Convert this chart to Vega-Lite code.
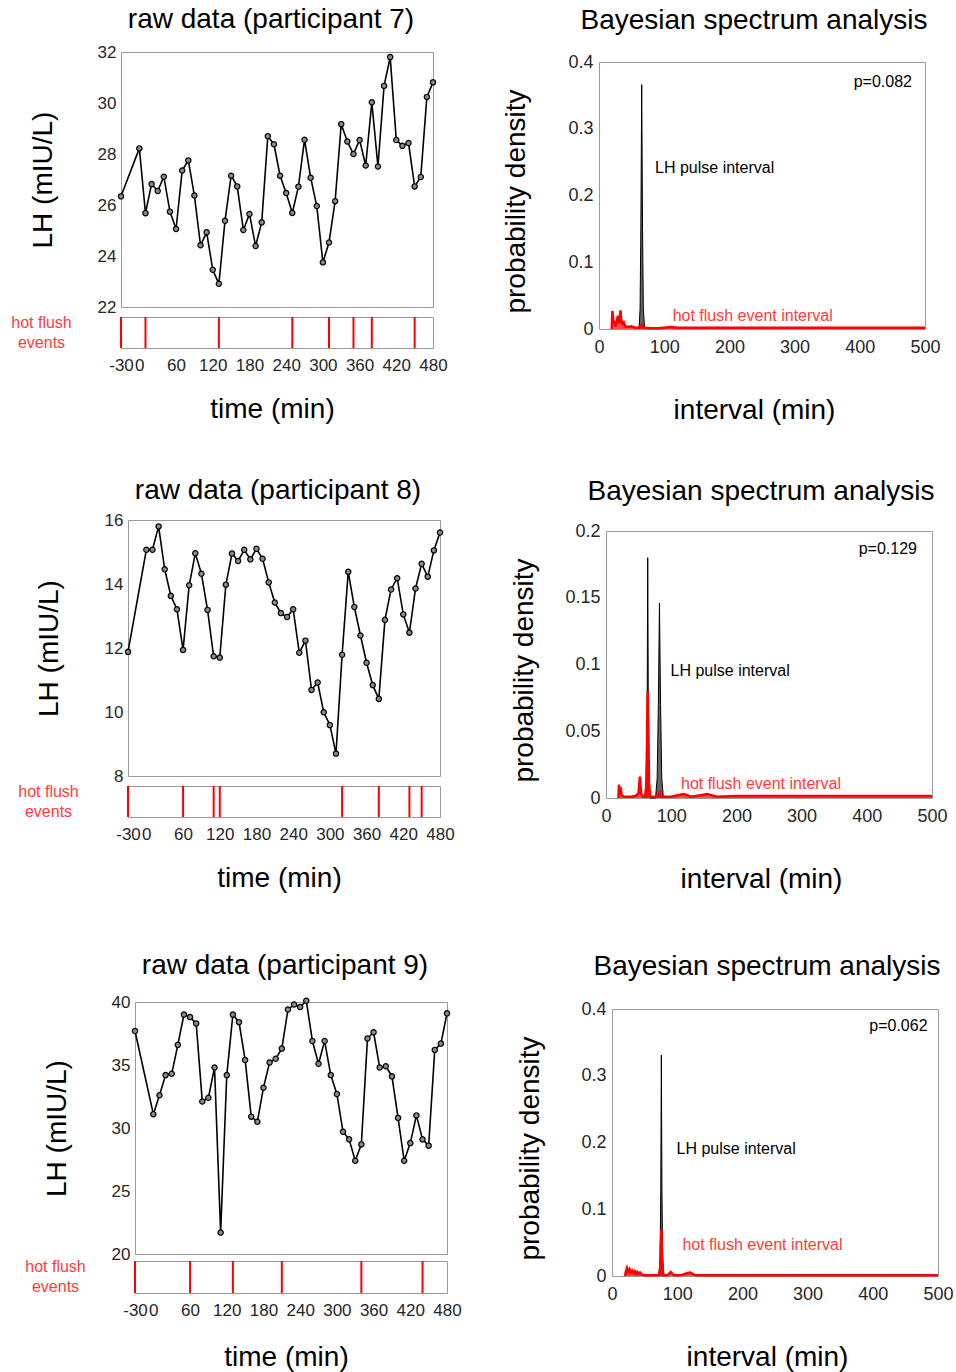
{
"$schema": "https://vega.github.io/schema/vega-lite/v6.json",
"padding": {"left": 8, "top": 5, "right": 0, "bottom": 0},
"config": {
  "font": "Liberation Sans",
  "view": {"stroke": "#9a9a9a", "strokeWidth": 1},
  "axis": {"labelFont": "Liberation Sans", "labelFontSize": 17, "labelColor": "#262626", "titleFont": "Liberation Sans", "titleFontWeight": "normal", "titleColor": "#000", "titleFontSize": 28, "grid": false, "ticks": false, "domain": false, "labelOverlap": false, "labelBound": false, "labelFlush": false},
  "title": {"font": "Liberation Sans", "fontSize": 28, "fontWeight": "normal", "color": "#000", "anchor": "middle"}
},
"datasets": {
  "p7": [{"t":-30,"lh":26.34},{"t":0,"lh":28.22},{"t":10,"lh":25.68},{"t":20,"lh":26.82},{"t":30,"lh":26.55},{"t":40,"lh":27.11},{"t":50,"lh":25.74},{"t":60,"lh":25.06},{"t":70,"lh":27.35},{"t":80,"lh":27.75},{"t":90,"lh":26.37},{"t":100,"lh":24.42},{"t":110,"lh":24.93},{"t":120,"lh":23.46},{"t":130,"lh":22.91},{"t":140,"lh":25.38},{"t":150,"lh":27.15},{"t":160,"lh":26.73},{"t":170,"lh":25.02},{"t":180,"lh":25.65},{"t":190,"lh":24.39},{"t":200,"lh":25.32},{"t":210,"lh":28.70},{"t":220,"lh":28.38},{"t":230,"lh":27.15},{"t":240,"lh":26.47},{"t":250,"lh":25.69},{"t":260,"lh":26.72},{"t":270,"lh":28.56},{"t":280,"lh":27.07},{"t":290,"lh":25.96},{"t":300,"lh":23.75},{"t":310,"lh":24.53},{"t":320,"lh":26.15},{"t":330,"lh":29.17},{"t":340,"lh":28.49},{"t":350,"lh":28.0},{"t":360,"lh":28.55},{"t":370,"lh":27.55},{"t":380,"lh":30.03},{"t":390,"lh":27.51},{"t":400,"lh":30.67},{"t":410,"lh":31.80},{"t":420,"lh":28.55},{"t":430,"lh":28.32},{"t":440,"lh":28.43},{"t":450,"lh":26.73},{"t":460,"lh":27.10},{"t":470,"lh":30.24},{"t":480,"lh":30.81}],
  "p8": [{"t":-30,"lh":11.88},{"t":0,"lh":15.07},{"t":10,"lh":15.07},{"t":20,"lh":15.80},{"t":30,"lh":14.46},{"t":40,"lh":13.63},{"t":50,"lh":13.21},{"t":60,"lh":11.94},{"t":70,"lh":13.96},{"t":80,"lh":14.96},{"t":90,"lh":14.32},{"t":100,"lh":13.19},{"t":110,"lh":11.74},{"t":120,"lh":11.70},{"t":130,"lh":13.98},{"t":140,"lh":14.95},{"t":150,"lh":14.72},{"t":160,"lh":15.07},{"t":170,"lh":14.77},{"t":180,"lh":15.10},{"t":190,"lh":14.79},{"t":200,"lh":14.05},{"t":210,"lh":13.42},{"t":220,"lh":13.09},{"t":230,"lh":12.97},{"t":240,"lh":13.21},{"t":250,"lh":11.85},{"t":260,"lh":12.23},{"t":270,"lh":10.69},{"t":280,"lh":10.92},{"t":290,"lh":9.99},{"t":300,"lh":9.59},{"t":310,"lh":8.70},{"t":320,"lh":11.79},{"t":330,"lh":14.38},{"t":340,"lh":13.28},{"t":350,"lh":12.39},{"t":360,"lh":11.54},{"t":370,"lh":10.84},{"t":380,"lh":10.41},{"t":390,"lh":12.88},{"t":400,"lh":13.83},{"t":410,"lh":14.18},{"t":420,"lh":13.05},{"t":430,"lh":12.48},{"t":440,"lh":13.86},{"t":450,"lh":14.63},{"t":460,"lh":14.23},{"t":470,"lh":15.05},{"t":480,"lh":15.61}],
  "p9": [{"t":-30,"lh":37.7},{"t":0,"lh":31.1},{"t":10,"lh":32.6},{"t":20,"lh":34.2},{"t":30,"lh":34.3},{"t":40,"lh":36.6},{"t":50,"lh":39.0},{"t":60,"lh":38.8},{"t":70,"lh":38.3},{"t":80,"lh":32.1},{"t":90,"lh":32.4},{"t":100,"lh":34.8},{"t":110,"lh":21.7},{"t":120,"lh":34.2},{"t":130,"lh":39.0},{"t":140,"lh":38.4},{"t":150,"lh":35.4},{"t":160,"lh":30.9},{"t":170,"lh":30.5},{"t":180,"lh":33.2},{"t":190,"lh":35.2},{"t":200,"lh":35.5},{"t":210,"lh":36.3},{"t":220,"lh":39.4},{"t":230,"lh":39.8},{"t":240,"lh":39.6},{"t":250,"lh":40.1},{"t":260,"lh":36.9},{"t":270,"lh":35.1},{"t":280,"lh":36.9},{"t":290,"lh":34.2},{"t":300,"lh":32.7},{"t":310,"lh":29.7},{"t":320,"lh":29.1},{"t":330,"lh":27.4},{"t":340,"lh":28.7},{"t":350,"lh":37.1},{"t":360,"lh":37.6},{"t":370,"lh":34.8},{"t":380,"lh":34.9},{"t":390,"lh":34.1},{"t":400,"lh":30.8},{"t":410,"lh":27.4},{"t":420,"lh":28.8},{"t":430,"lh":31.0},{"t":440,"lh":29.1},{"t":450,"lh":28.6},{"t":460,"lh":36.2},{"t":470,"lh":36.7},{"t":480,"lh":39.1}],
  "e7": [{"t":-30},{"t":10},{"t":130},{"t":250},{"t":310},{"t":350},{"t":380},{"t":450}],
  "e8": [{"t":-30},{"t":60},{"t":110},{"t":120},{"t":320},{"t":380},{"t":430},{"t":450}],
  "e9": [{"t":-30},{"t":60},{"t":130},{"t":210},{"t":340},{"t":440}],
  "s7": [
    {"s":"LH","x":61.5,"p":0},{"s":"LH","x":63,"p":0.03},{"s":"LH","x":64.2,"p":0.15},{"s":"LH","x":65.5,"p":0.366},{"s":"LH","x":66.8,"p":0.15},{"s":"LH","x":68,"p":0.03},{"s":"LH","x":70,"p":0},
    {"s":"HF","x":19.5,"p":0},{"s":"HF","x":20.5,"p":0.027},{"s":"HF","x":22,"p":0.012},{"s":"HF","x":24,"p":0.01},{"s":"HF","x":25,"p":0.004},{"s":"HF","x":27,"p":0.01},{"s":"HF","x":29,"p":0.02},{"s":"HF","x":31,"p":0.008},{"s":"HF","x":33,"p":0.028},{"s":"HF","x":34,"p":0.015},{"s":"HF","x":36,"p":0.008},{"s":"HF","x":38,"p":0.01},{"s":"HF","x":40,"p":0.004},{"s":"HF","x":45,"p":0.003},{"s":"HF","x":50,"p":0.004},{"s":"HF","x":55,"p":0.002},{"s":"HF","x":60,"p":0.002},{"s":"HF","x":63,"p":0.004},{"s":"HF","x":66,"p":0.006},{"s":"HF","x":69,"p":0.002},{"s":"HF","x":75,"p":0.001},{"s":"HF","x":90,"p":0.001},{"s":"HF","x":100,"p":0.002},{"s":"HF","x":110,"p":0.003},{"s":"HF","x":120,"p":0.002},{"s":"HF","x":150,"p":0.002},{"s":"HF","x":200,"p":0.002},{"s":"HF","x":300,"p":0.002},{"s":"HF","x":400,"p":0.002},{"s":"HF","x":500,"p":0.002}
  ],
  "s8": [
    {"s":"LH","x":60.7,"p":0},{"s":"LH","x":62.3,"p":0.03},{"s":"LH","x":63.2,"p":0.08},{"s":"LH","x":64,"p":0.18},{"s":"LH","x":64.8,"p":0.08},{"s":"LH","x":65.7,"p":0.03},{"s":"LH","x":67.3,"p":0},{"s":"LH","x":76,"p":0},{"s":"LH","x":78.5,"p":0.015},{"s":"LH","x":80.3,"p":0.07},{"s":"LH","x":82,"p":0.146},{"s":"LH","x":83.7,"p":0.07},{"s":"LH","x":85.5,"p":0.015},{"s":"LH","x":88,"p":0},
    {"s":"HF","x":19,"p":0},{"s":"HF","x":20,"p":0.01},{"s":"HF","x":21,"p":0.004},{"s":"HF","x":23,"p":0.006},{"s":"HF","x":24,"p":0.002},{"s":"HF","x":27,"p":0.001},{"s":"HF","x":40,"p":0.001},{"s":"HF","x":47,"p":0.002},{"s":"HF","x":50,"p":0.004},{"s":"HF","x":52,"p":0.016},{"s":"HF","x":54,"p":0.003},{"s":"HF","x":57,"p":0.001},{"s":"HF","x":60,"p":0.001},{"s":"HF","x":62,"p":0.01},{"s":"HF","x":64,"p":0.08},{"s":"HF","x":66,"p":0.01},{"s":"HF","x":68,"p":0.001},{"s":"HF","x":75,"p":0.001},{"s":"HF","x":80,"p":0.002},{"s":"HF","x":82,"p":0.004},{"s":"HF","x":84,"p":0.001},{"s":"HF","x":100,"p":0.001},{"s":"HF","x":110,"p":0.002},{"s":"HF","x":120,"p":0.003},{"s":"HF","x":130,"p":0.001},{"s":"HF","x":145,"p":0.002},{"s":"HF","x":155,"p":0.003},{"s":"HF","x":170,"p":0.001},{"s":"HF","x":200,"p":0.0015},{"s":"HF","x":300,"p":0.0015},{"s":"HF","x":500,"p":0.0015}
  ],
  "s9": [
    {"s":"LH","x":72,"p":0},{"s":"LH","x":73.8,"p":0.03},{"s":"LH","x":74.8,"p":0.13},{"s":"LH","x":75.7,"p":0.331},{"s":"LH","x":76.6,"p":0.13},{"s":"LH","x":77.6,"p":0.03},{"s":"LH","x":79.4,"p":0},
    {"s":"HF","x":20,"p":0},{"s":"HF","x":21,"p":0.006},{"s":"HF","x":23,"p":0.012},{"s":"HF","x":25,"p":0.006},{"s":"HF","x":27,"p":0.01},{"s":"HF","x":29,"p":0.005},{"s":"HF","x":31,"p":0.008},{"s":"HF","x":33,"p":0.004},{"s":"HF","x":35,"p":0.007},{"s":"HF","x":37,"p":0.003},{"s":"HF","x":39,"p":0.006},{"s":"HF","x":41,"p":0.003},{"s":"HF","x":43,"p":0.005},{"s":"HF","x":46,"p":0.002},{"s":"HF","x":50,"p":0.001},{"s":"HF","x":72,"p":0.001},{"s":"HF","x":74,"p":0.012},{"s":"HF","x":75.7,"p":0.07},{"s":"HF","x":77.4,"p":0.012},{"s":"HF","x":79,"p":0.001},{"s":"HF","x":85,"p":0.001},{"s":"HF","x":90,"p":0.006},{"s":"HF","x":95,"p":0.001},{"s":"HF","x":105,"p":0.001},{"s":"HF","x":115,"p":0.004},{"s":"HF","x":120,"p":0.005},{"s":"HF","x":128,"p":0.001},{"s":"HF","x":150,"p":0.001},{"s":"HF","x":200,"p":0.001},{"s":"HF","x":500,"p":0.001}
  ]
},
"spacing": 51,
"vconcat": [
 {"hconcat": [
  {"width": 1, "height": 1, "data": {"values": [{"a": 1}]}, "view": {"stroke": null}, "mark": {"type": "rule", "opacity": 0}, "encoding": {}},
  {"hconcat": [
   {"vconcat": [
    {"width": 312, "height": 255, "data": {"name": "p7"},
     "title": {"text": "raw data (participant 7)", "offset": 9, "dx": -6},
     "encoding": {
       "x": {"field": "t", "type": "quantitative", "scale": {"domain": [-30, 480], "nice": false, "zero": false}, "axis": null},
       "y": {"field": "lh", "type": "quantitative", "scale": {"domain": [22, 32], "nice": false, "zero": false}, "axis": {"values": [22,24,26,28,30,32], "title": "LH (mIU/L)", "titlePadding": 40, "labelPadding": 5}}
     },
     "layer": [
       {"mark": {"type": "line", "color": "#000", "strokeWidth": 1.6}},
       {"mark": {"type": "point", "shape": "circle", "filled": true, "fill": "#8a8a8a", "stroke": "#000", "strokeWidth": 1.2, "size": 28, "opacity": 1}}
     ]},
    {"width": 312, "height": 31, "data": {"name": "e7"},
     "mark": {"type": "rule", "color": "#ff0000", "strokeWidth": 2},
     "encoding": {
       "x": {"field": "t", "type": "quantitative", "scale": {"domain": [-30, 480], "nice": false, "zero": false}, "axis": {"values": [-30,0,60,120,180,240,300,360,420,480], "labelExpr": "datum.value + ''", "labelPadding": 9, "title": "time (min)", "titlePadding": 22, "titleX": 151}},
       "y": {"datum": 0, "type": "quantitative", "scale": {"domain": [0, 1]}, "axis": {"labels": false, "title": ["hot flush", "events"], "titleAngle": 0, "titleAlign": "center", "titleBaseline": "middle", "titleX": -80, "titleY": 5, "titleColor": "#ff3b3b", "titleFontSize": 16, "titleLineHeight": 20}},
       "y2": {"datum": 1}
     }}
   ], "spacing": 10, "bounds": "flush"},
   {"vconcat": [
    {"width": 326, "height": 1, "data": {"values": [{"a": 1}]}, "view": {"stroke": null},
     "title": {"text": "Bayesian spectrum analysis", "offset": 17, "dx": -8},
     "mark": {"type": "rule", "opacity": 0}, "encoding": {}},
    {"width": 326, "height": 267, "data": {"name": "s7"},
     "encoding": {
       "x": {"field": "x", "type": "quantitative", "scale": {"domain": [0, 500], "nice": false}, "axis": {"values": [0,100,200,300,400,500], "labelFontSize": 18, "labelPadding": 9, "title": "interval (min)", "titlePadding": 40, "titleX": 155}},
       "y": {"field": "p", "type": "quantitative", "scale": {"domain": [0, 0.4], "nice": false}, "axis": {"values": [0,0.1,0.2,0.3,0.4], "format": "~g", "labelFontSize": 18, "labelPadding": 6, "title": "probability density", "titlePadding": 37, "titleY": 139}}
     },
     "layer": [
       {"transform": [{"filter": "datum.s == 'LH'"}], "mark": {"type": "area", "color": "#222", "line": {"color": "#000", "strokeWidth": 1}}},
       {"transform": [{"filter": "datum.s == 'HF'"}], "mark": {"type": "area", "color": "#ff0000", "line": {"color": "#ff0000", "strokeWidth": 2.5}}},
       {"transform": [{"filter": "datum.s == 'HF' && datum.x == 500"}], "mark": {"type": "text", "align": "left", "baseline": "middle", "fontSize": 16, "color": "#000"}, "encoding": {"x": {"datum": 86}, "y": {"datum": 0.241}, "text": {"value": "LH pulse interval"}}},
       {"transform": [{"filter": "datum.s == 'HF' && datum.x == 500"}], "mark": {"type": "text", "align": "left", "baseline": "middle", "fontSize": 16, "color": "#ff3b3b"}, "encoding": {"x": {"datum": 113}, "y": {"datum": 0.019}, "text": {"value": "hot flush event interval"}}},
       {"transform": [{"filter": "datum.s == 'HF' && datum.x == 500"}], "mark": {"type": "text", "align": "right", "baseline": "middle", "fontSize": 16, "color": "#000"}, "encoding": {"x": {"datum": 480}, "y": {"datum": 0.37}, "text": {"value": "p=0.082"}}}
     ]}
   ], "spacing": 9, "bounds": "flush"}
  ], "spacing": 54}
 ], "spacing": 0},
 {"vconcat": [
 {"hconcat": [
  {"width": 8, "height": 1, "data": {"values": [{"a": 1}]}, "view": {"stroke": null}, "mark": {"type": "rule", "opacity": 0}, "encoding": {}},
  {"hconcat": [
   {"vconcat": [
    {"width": 312, "height": 256, "data": {"name": "p8"},
     "title": {"text": "raw data (participant 8)", "offset": 6, "dx": -6},
     "encoding": {
       "x": {"field": "t", "type": "quantitative", "scale": {"domain": [-30, 480], "nice": false, "zero": false}, "axis": null},
       "y": {"field": "lh", "type": "quantitative", "scale": {"domain": [8, 16], "nice": false, "zero": false}, "axis": {"values": [8,10,12,14,16], "title": "LH (mIU/L)", "titlePadding": 41, "labelPadding": 5}}
     },
     "layer": [
       {"mark": {"type": "line", "color": "#000", "strokeWidth": 1.6}},
       {"mark": {"type": "point", "shape": "circle", "filled": true, "fill": "#8a8a8a", "stroke": "#000", "strokeWidth": 1.2, "size": 28, "opacity": 1}}
     ]},
    {"width": 312, "height": 31, "data": {"name": "e8"},
     "mark": {"type": "rule", "color": "#ff0000", "strokeWidth": 2},
     "encoding": {
       "x": {"field": "t", "type": "quantitative", "scale": {"domain": [-30, 480], "nice": false, "zero": false}, "axis": {"values": [-30,0,60,120,180,240,300,360,420,480], "labelExpr": "datum.value + ''", "labelPadding": 9, "title": "time (min)", "titlePadding": 22, "titleX": 151}},
       "y": {"datum": 0, "type": "quantitative", "scale": {"domain": [0, 1]}, "axis": {"labels": false, "title": ["hot flush", "events"], "titleAngle": 0, "titleAlign": "center", "titleBaseline": "middle", "titleX": -80, "titleY": 5, "titleColor": "#ff3b3b", "titleFontSize": 16, "titleLineHeight": 20}},
       "y2": {"datum": 1}
     }}
   ], "spacing": 10, "bounds": "flush"},
   {"vconcat": [
    {"width": 326, "height": 1, "data": {"values": [{"a": 1}]}, "view": {"stroke": null},
     "title": {"text": "Bayesian spectrum analysis", "offset": 14, "dx": -8},
     "mark": {"type": "rule", "opacity": 0}, "encoding": {}},
    {"width": 326, "height": 267, "data": {"name": "s8"},
     "encoding": {
       "x": {"field": "x", "type": "quantitative", "scale": {"domain": [0, 500], "nice": false}, "axis": {"values": [0,100,200,300,400,500], "labelFontSize": 18, "labelPadding": 9, "title": "interval (min)", "titlePadding": 40, "titleX": 155}},
       "y": {"field": "p", "type": "quantitative", "scale": {"domain": [0, 0.2], "nice": false}, "axis": {"values": [0,0.05,0.1,0.15,0.2], "format": "~g", "labelFontSize": 18, "labelPadding": 6, "title": "probability density", "titlePadding": 26, "titleY": 139}}
     },
     "layer": [
       {"transform": [{"filter": "datum.s == 'LH'"}], "mark": {"type": "area", "color": "#222", "line": {"color": "#000", "strokeWidth": 1}}},
       {"transform": [{"filter": "datum.s == 'HF'"}], "mark": {"type": "area", "color": "#ff0000", "line": {"color": "#ff0000", "strokeWidth": 2.5}}},
       {"transform": [{"filter": "datum.s == 'HF' && datum.x == 500"}], "mark": {"type": "text", "align": "left", "baseline": "middle", "fontSize": 16, "color": "#000"}, "encoding": {"x": {"datum": 99}, "y": {"datum": 0.095}, "text": {"value": "LH pulse interval"}}},
       {"transform": [{"filter": "datum.s == 'HF' && datum.x == 500"}], "mark": {"type": "text", "align": "left", "baseline": "middle", "fontSize": 16, "color": "#ff3b3b"}, "encoding": {"x": {"datum": 115}, "y": {"datum": 0.0105}, "text": {"value": "hot flush event interval"}}},
       {"transform": [{"filter": "datum.s == 'HF' && datum.x == 500"}], "mark": {"type": "text", "align": "right", "baseline": "middle", "fontSize": 16, "color": "#000"}, "encoding": {"x": {"datum": 477}, "y": {"datum": 0.1865}, "text": {"value": "p=0.129"}}}
     ]}
   ], "spacing": 10, "bounds": "flush"}
  ], "spacing": 55}
 ], "spacing": 0},
 {"hconcat": [
  {"width": 15, "height": 1, "data": {"values": [{"a": 1}]}, "view": {"stroke": null}, "mark": {"type": "rule", "opacity": 0}, "encoding": {}},
  {"hconcat": [
   {"vconcat": [
    {"width": 312, "height": 252, "data": {"name": "p9"},
     "title": {"text": "raw data (participant 9)", "offset": 13, "dx": -6},
     "encoding": {
       "x": {"field": "t", "type": "quantitative", "scale": {"domain": [-30, 480], "nice": false, "zero": false}, "axis": null},
       "y": {"field": "lh", "type": "quantitative", "scale": {"domain": [20, 40], "nice": false, "zero": false}, "axis": {"values": [20,25,30,35,40], "title": "LH (mIU/L)", "titlePadding": 40, "labelPadding": 5}}
     },
     "layer": [
       {"mark": {"type": "line", "color": "#000", "strokeWidth": 1.6}},
       {"mark": {"type": "point", "shape": "circle", "filled": true, "fill": "#8a8a8a", "stroke": "#000", "strokeWidth": 1.2, "size": 28, "opacity": 1}}
     ]},
    {"width": 312, "height": 32, "data": {"name": "e9"},
     "mark": {"type": "rule", "color": "#ff0000", "strokeWidth": 2},
     "encoding": {
       "x": {"field": "t", "type": "quantitative", "scale": {"domain": [-30, 480], "nice": false, "zero": false}, "axis": {"values": [-30,0,60,120,180,240,300,360,420,480], "labelExpr": "datum.value + ''", "labelPadding": 9, "title": "time (min)", "titlePadding": 25, "titleX": 151}},
       "y": {"datum": 0, "type": "quantitative", "scale": {"domain": [0, 1]}, "axis": {"labels": false, "title": ["hot flush", "events"], "titleAngle": 0, "titleAlign": "center", "titleBaseline": "middle", "titleX": -80, "titleY": 5, "titleColor": "#ff3b3b", "titleFontSize": 16, "titleLineHeight": 20}},
       "y2": {"datum": 1}
     }}
   ], "spacing": 7, "bounds": "flush"},
   {"vconcat": [
    {"width": 326, "height": 1, "data": {"values": [{"a": 1}]}, "view": {"stroke": null},
     "title": {"text": "Bayesian spectrum analysis", "offset": 21, "dx": -8},
     "mark": {"type": "rule", "opacity": 0}, "encoding": {}},
    {"width": 326, "height": 267, "data": {"name": "s9"},
     "encoding": {
       "x": {"field": "x", "type": "quantitative", "scale": {"domain": [0, 500], "nice": false}, "axis": {"values": [0,100,200,300,400,500], "labelFontSize": 18, "labelPadding": 9, "title": "interval (min)", "titlePadding": 40, "titleX": 155}},
       "y": {"field": "p", "type": "quantitative", "scale": {"domain": [0, 0.4], "nice": false}, "axis": {"values": [0,0.1,0.2,0.3,0.4], "format": "~g", "labelFontSize": 18, "labelPadding": 6, "title": "probability density", "titlePadding": 36, "titleY": 139}}
     },
     "layer": [
       {"transform": [{"filter": "datum.s == 'LH'"}], "mark": {"type": "area", "color": "#222", "line": {"color": "#000", "strokeWidth": 1}}},
       {"transform": [{"filter": "datum.s == 'HF'"}], "mark": {"type": "area", "color": "#ff0000", "line": {"color": "#ff0000", "strokeWidth": 2.5}}},
       {"transform": [{"filter": "datum.s == 'HF' && datum.x == 500"}], "mark": {"type": "text", "align": "left", "baseline": "middle", "fontSize": 16, "color": "#000"}, "encoding": {"x": {"datum": 99}, "y": {"datum": 0.19}, "text": {"value": "LH pulse interval"}}},
       {"transform": [{"filter": "datum.s == 'HF' && datum.x == 500"}], "mark": {"type": "text", "align": "left", "baseline": "middle", "fontSize": 16, "color": "#ff3b3b"}, "encoding": {"x": {"datum": 108}, "y": {"datum": 0.046}, "text": {"value": "hot flush event interval"}}},
       {"transform": [{"filter": "datum.s == 'HF' && datum.x == 500"}], "mark": {"type": "text", "align": "right", "baseline": "middle", "fontSize": 16, "color": "#000"}, "encoding": {"x": {"datum": 484}, "y": {"datum": 0.374}, "text": {"value": "p=0.062"}}}
     ]}
   ], "spacing": 6, "bounds": "flush"}
  ], "spacing": 54}
 ], "spacing": 0}
 ], "spacing": 57}
]
}
